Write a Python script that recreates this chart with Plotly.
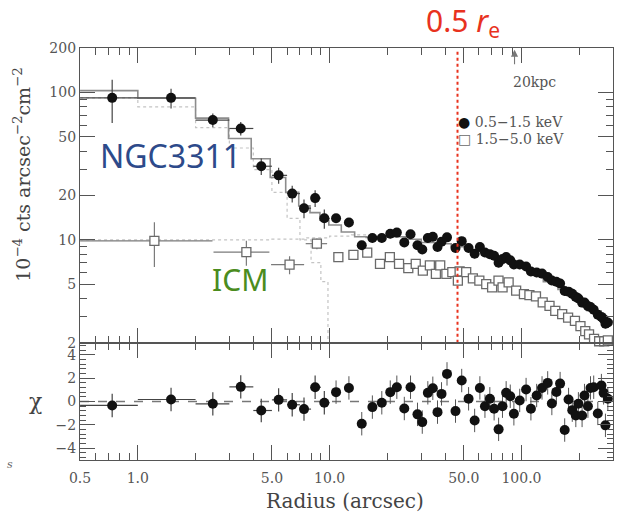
import numpy as np
import plotly.graph_objects as go

# ---------------- data ----------------
# 0.5-1.5 keV surface brightness, inner binned points (arcsec, 1e-4 cts/arcsec^2/cm^2)
soft_r_in = [0.735, 1.49, 2.46, 3.44, 4.40, 5.42, 6.38, 7.35, 8.40, 9.38]
soft_xlo_in = [0.235, 0.49, 0.46, 0.44, 0.40, 0.42, 0.38, 0.35, 0.40, 0.38]
soft_xhi_in = [0.265, 0.51, 0.54, 0.56, 0.60, 0.58, 0.62, 0.65, 0.60, 0.62]
soft_v_in = [92, 92, 65, 57, 31.6, 27.4, 20.6, 16.4, 19.2, 14.0]
soft_e_in = [30, 14, 7, 6, 4, 3.4, 2.7, 2.4, 2.5, 2.1]

# 0.5-1.5 keV, outer points
soft_r_out = [10.8, 12.6, 14.7, 16.7, 18.7, 20.7, 22.4, 24.5, 26.4, 28.7,
              30.4, 32.5, 34.5, 36.5, 38.3, 40.9, 45.3, 48.8, 53.0, 57.0,
              60.7, 64.5, 68.4, 72.0, 76.0, 79.6, 83.2, 87.4, 91.3, 97.9,
              105.7, 112, 120, 128, 137, 144, 152, 159, 168, 176,
              184, 192, 198, 207, 213, 222, 229, 238, 250, 261,
              268, 274, 282]
soft_v_out = [14.0, 13.1, 9.2, 10.3, 10.3, 11.0, 11.2, 9.6, 10.9, 9.2,
              8.6, 10.3, 10.5, 8.95, 9.7, 10.4, 8.8, 9.8, 8.8, 8.05,
              8.95, 8.2, 8.0, 7.8, 7.0, 7.4, 7.64, 7.26, 6.8, 6.8,
              6.6, 6.1, 6.0, 5.9, 5.6, 5.3, 5.2, 5.05, 4.5, 4.45,
              4.3, 4.1, 4.0, 3.75, 3.75, 3.55, 3.5, 3.35, 3.1, 3.0,
              2.9, 2.7, 2.75]

# 1.5-5.0 keV, inner binned points
hard_r_in = [1.22, 3.68, 6.18, 8.58]
hard_xlo_in = [0.72, 1.20, 1.23, 1.08]
hard_xhi_in = [1.23, 1.17, 1.18, 1.12]
hard_v_in = [9.85, 8.26, 6.79, 9.42]
hard_e_in = [3.3, 1.6, 0.95, 0.8]

# 1.5-5.0 keV, outer points
hard_r_out = [11.1, 13.3, 15.7, 18.3, 20.6, 23.0, 25.7, 28.1, 30.6, 33.3,
              35.8, 37.7, 40.6, 43.6, 46.6, 47.6, 51.5, 55.8, 60.3, 65.5,
              70.3, 75.9, 79.7, 85.7, 93.8, 103, 110, 119, 129, 140,
              150, 163, 175, 190, 203, 215, 225, 239, 254, 270, 282]
hard_v_out = [7.64, 7.9, 8.2, 6.87, 7.64, 6.87, 6.43, 6.87, 6.19, 6.7,
              5.87, 6.7, 5.87, 6.03, 5.29, 6.1, 6.03, 5.48, 5.29, 5.01,
              4.76, 5.29, 4.76, 5.15, 4.52, 4.28, 4.21, 4.13, 3.76, 3.56,
              3.30, 3.13, 2.97, 2.82, 2.60, 2.40, 2.28, 2.13, 2.05, 2.05, 2.08]

# fit residuals for the soft band, one per soft point
chi = [-0.34, 0.17, -0.2, 1.25, -0.77, 0.14, -0.28, -0.65, 1.22, -0.11,
       0.8, 1.16, -1.9, -0.48, -0.11, 0.8, 1.22, -0.6, 1.22, -1.1,
       -1.76, 0.74, 1.13, -0.91, 0.65, 2.36, -0.82, 1.79, 0.23, -1.62,
       1.16, -0.4, 0.23, -0.62, -2.38, -0.4, 0.74, 0.45, -1.05, 0.09,
       1.02, -0.62, 0.51, 1.16, 1.59, -0.17, 0.82, 1.53, -2.44, 0.17,
       -0.74, -1.19, -0.2, -1.19, 0.51, -0.4, 1.16, 1.22, -1.02, 1.36,
       0.74, -2.04, 0.23]

# total model (histogram): bin edges and bin values
model_edges = [0.5, 1.0, 2.0, 2.97, 3.9, 4.9, 5.9, 6.9, 7.9, 8.9, 9.9, 11.5, 13.5,
               15.5, 18, 21, 25, 30, 36, 43, 52, 62, 75, 90, 108, 130, 155,
               185, 220, 260, 300]
model_vals = [103, 91.5, 67, 48.7, 35.5, 26.5, 21, 17, 15.3, 13.6, 12.6, 11.3,
              10.5, 10.4, 10.6, 10.5, 10.1, 9.6, 9.4, 9.0, 8.5, 7.9, 7.3, 6.6,
              5.9, 5.2, 4.6, 3.9, 3.3, 2.8]

# galaxy component (dotted)
gal_edges = [0.5, 1, 2, 3, 4, 5, 6, 7, 8, 9, 9.8]
gal_vals = [92, 80, 57.8, 42, 30, 21, 14, 10, 7, 5.2, 1.0]

# cluster (ICM) component (dotted)
icm_edges = [0.5, 2.5, 5, 7.5, 10, 13, 16]
icm_vals = [10, 10, 10.1, 10.3, 10.6, 10.8, 10.8]

r_half = 46.4       # 0.5 r_e in arcsec
r_20kpc = 92        # 20 kpc in arcsec

x_tickvals = [0.5, 1, 5, 10, 50, 100]
x_ticktext = ['0.5', '1.0', '5.0', '10.0', '50.0', '100.0']
x_minor = [0.6, 0.7, 0.8, 0.9, 2, 3, 4, 6, 7, 8, 9, 20, 30, 40, 60, 70, 80, 90, 200]
y_tickvals = [2, 5, 10, 20, 50, 100, 200]
y_ticktext = ['2', '5', '10', '20', '50', '100', '200']
y_minor = [3, 4, 6, 7, 8, 9, 30, 40, 60, 70, 80, 90]
chi_tickvals = [-4, -2, 0, 2, 4]
chi_ticktext = ['\u22124', '\u22122', '0', '2', '4']

# ---------------- figure ----------------
DARK = '#111111'
AXC = '#555555'
TICKFONT = dict(family='DejaVu Serif', size=14, color='#555555')

fig = go.Figure()

# model components
fig.add_trace(go.Scatter(x=gal_edges, y=gal_vals, mode='lines',
                         line=dict(shape='hv', color='#c4c4c4', width=1.2, dash='dot'),
                         xaxis='x', yaxis='y', hoverinfo='skip'))
fig.add_trace(go.Scatter(x=icm_edges, y=icm_vals, mode='lines',
                         line=dict(shape='hv', color='#c4c4c4', width=1.2, dash='dot'),
                         xaxis='x', yaxis='y', hoverinfo='skip'))
fig.add_trace(go.Scatter(x=model_edges, y=model_vals + [model_vals[-1]], mode='lines',
                         line=dict(shape='hv', color='#8c8c8c', width=1.6),
                         xaxis='x', yaxis='y', hoverinfo='skip'))

# hard band (open squares)
sq = dict(symbol='square', size=9, color='white', line=dict(color='#6a6a6a', width=1.3))
fig.add_trace(go.Scatter(x=hard_r_in, y=hard_v_in, mode='markers', marker=sq,
                         error_x=dict(type='data', symmetric=False, array=hard_xhi_in,
                                      arrayminus=hard_xlo_in, color='#7a7a7a',
                                      thickness=1.2, width=0),
                         error_y=dict(type='data', array=hard_e_in, color='#7a7a7a',
                                      thickness=1.2, width=0),
                         xaxis='x', yaxis='y', cliponaxis=False))
fig.add_trace(go.Scatter(x=hard_r_out, y=hard_v_out, mode='markers', marker=sq,
                         error_x=dict(type='percent', value=3, color='#7a7a7a',
                                      thickness=1, width=0),
                         error_y=dict(type='percent', value=5, color='#7a7a7a',
                                      thickness=1, width=0),
                         xaxis='x', yaxis='y', cliponaxis=False))

# soft band (filled circles)
dot = dict(symbol='circle', size=10, color=DARK, line=dict(width=0))
fig.add_trace(go.Scatter(x=soft_r_in, y=soft_v_in, mode='markers', marker=dot,
                         error_x=dict(type='data', symmetric=False, array=soft_xhi_in,
                                      arrayminus=soft_xlo_in, color='#444444',
                                      thickness=1.2, width=0),
                         error_y=dict(type='data', array=soft_e_in, color='#444444',
                                      thickness=1.2, width=0),
                         xaxis='x', yaxis='y'))
fig.add_trace(go.Scatter(x=soft_r_out, y=soft_v_out, mode='markers', marker=dot,
                         error_x=dict(type='percent', value=3, color='#444444',
                                      thickness=1, width=0),
                         error_y=dict(type='percent', value=7, color='#444444',
                                      thickness=1, width=0),
                         xaxis='x', yaxis='y', cliponaxis=False))

# 0.5 r_e marker line
fig.add_trace(go.Scatter(x=[r_half, r_half], y=[2, 190], mode='lines',
                         line=dict(color='#e8321e', width=2, dash='dot'),
                         xaxis='x', yaxis='y', hoverinfo='skip'))

# residuals
fig.add_trace(go.Scatter(x=soft_r_in, y=chi[:len(soft_r_in)], mode='markers', marker=dot,
                         error_x=dict(type='data', symmetric=False, array=soft_xhi_in,
                                      arrayminus=soft_xlo_in, color='#444444',
                                      thickness=1.2, width=0),
                         error_y=dict(type='constant', value=1, color='#444444',
                                      thickness=1.2, width=0),
                         xaxis='x2', yaxis='y2'))
fig.add_trace(go.Scatter(x=soft_r_out, y=chi[len(soft_r_in):], mode='markers', marker=dot,
                         error_x=dict(type='percent', value=3, color='#444444',
                                      thickness=1, width=0),
                         error_y=dict(type='constant', value=1, color='#555555',
                                      thickness=1, width=0),
                         xaxis='x2', yaxis='y2'))

# zero line in the residual panel
fig.add_shape(type='line', xref='x2 domain', x0=0, x1=1, yref='y2', y0=0, y1=0,
              line=dict(color='#777777', width=1.3, dash='dash'), layer='below')

common_x = dict(type='log', range=[np.log10(0.4995), np.log10(300)],
                tickvals=x_tickvals, ticktext=x_ticktext,
                ticks='inside', ticklen=15, tickwidth=1.2, tickcolor=AXC,
                minor=dict(tickvals=x_minor, ticks='inside', ticklen=7,
                           tickwidth=1.2, tickcolor=AXC),
                showline=True, linecolor=AXC, linewidth=1.2, mirror='allticks',
                showgrid=False, zeroline=False, tickfont=TICKFONT)

fig.update_layout(
    width=618, height=512,
    margin=dict(l=80, r=5, t=48, b=52),
    paper_bgcolor='white', plot_bgcolor='white',
    showlegend=False,
    xaxis=dict(common_x, anchor='y', showticklabels=False),
    xaxis2=dict(common_x, anchor='y2', matches='x', showticklabels=True,
                ticklabelstandoff=5),
    yaxis=dict(type='log', domain=[0.284, 1.0],
               range=[np.log10(1.995), np.log10(200.5)],
               tickvals=y_tickvals, ticktext=y_ticktext,
               ticks='inside', ticklen=15, tickwidth=1.2, tickcolor=AXC,
               minor=dict(tickvals=y_minor, ticks='inside', ticklen=7,
                          tickwidth=1.2, tickcolor=AXC),
               showline=True, linecolor=AXC, linewidth=1.2, mirror='allticks',
               showgrid=False, zeroline=False, tickfont=TICKFONT, anchor='x'),
    yaxis2=dict(domain=[0.0, 0.284], range=[-5, 5],
                tickvals=chi_tickvals, ticktext=chi_ticktext,
                ticks='inside', ticklen=15, tickwidth=1.2, tickcolor=AXC,
                minor=dict(dtick=0.4, tick0=0, ticks='inside', ticklen=6,
                           tickwidth=1, tickcolor=AXC),
                showline=True, linecolor=AXC, linewidth=1.2, mirror='allticks',
                showgrid=False, zeroline=False, tickfont=TICKFONT, anchor='x2'),
)

serif = 'DejaVu Serif'


def label(text, x, y, size, color, family=serif, xref='paper', **kw):
    d = dict(text=text, x=x, y=y, xref=xref, yref='paper', showarrow=False,
             xanchor='center', yanchor='middle',
             font=dict(family=family, size=size, color=color))
    d.update(kw)
    return d


ann = [
    label('Radius (arcsec)', 0.497, -0.1, 20, '#444444'),
    label('10<sup>\u22124</sup> cts arcsec<sup>\u22122</sup>cm<sup>\u22122</sup>',
          -0.109, 0.692, 19, '#444444', textangle=-90),
    label('\u03c7', -0.084, 0.141, 22, '#444444'),
    label('NGC3311', 0.169, 0.740, 32, '#2d4a8a', family='Noto Sans'),
    label('ICM', 0.300, 0.437, 30, '#4b8c1e', family='Noto Sans'),
    label('0.5 <i>r</i><sub>e</sub>', np.log10(r_half) + 0.03, 1.063, 30, '#e8321e',
          family='Noto Sans', xref='x'),
    label('20kpc', 0.852, 0.917, 14, '#555555'),
    dict(text='', x=np.log10(r_20kpc), y=0.996, xref='x', yref='paper',
         showarrow=True, ax=0, ay=16, arrowhead=2, arrowsize=1.3,
         arrowwidth=1.1, arrowcolor='#777777'),
    label('<span style="color:#111111">\u25cf</span> 0.5\u22121.5 keV',
          0.706, 0.820, 14, '#555555', xanchor='left'),
    label('<span style="color:#6a6a6a">\u25a1</span> 1.5\u22125.0 keV',
          0.706, 0.780, 14, '#555555', xanchor='left'),
    label('<i>s</i>', -0.131, -0.012, 11, '#666666'),
]
fig.update_layout(annotations=ann)

fig.write_html('out.html')
